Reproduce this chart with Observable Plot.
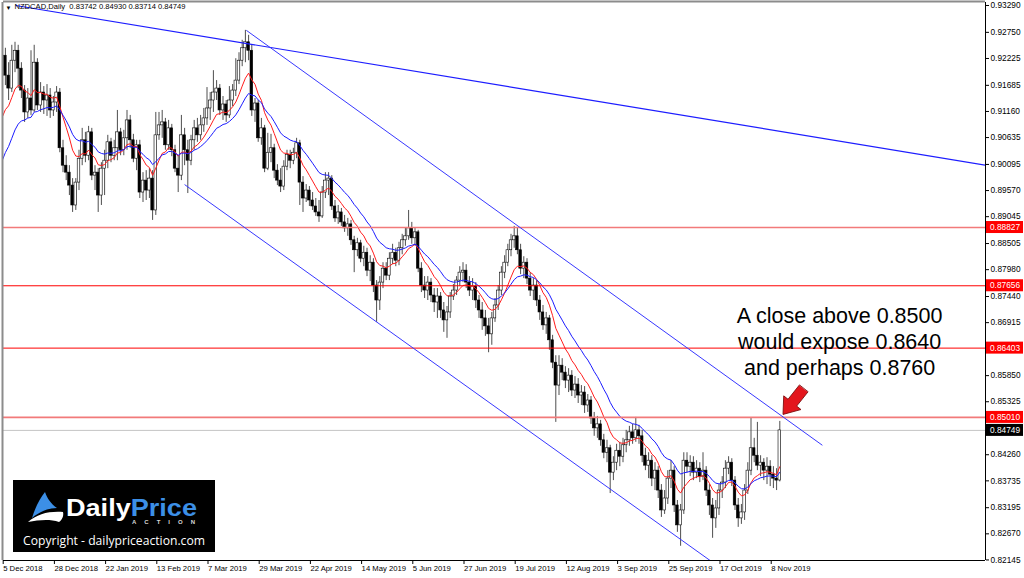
<!DOCTYPE html>
<html>
<head>
<meta charset="utf-8">
<script src="https://cdn.jsdelivr.net/npm/d3@7"></script>
<script src="https://cdn.jsdelivr.net/npm/@observablehq/plot@0.6"></script>
<style>
  html, body { margin: 0; padding: 0; background: #fff; }
  #chart { position: relative; width: 1024px; height: 578px; overflow: hidden; }
  #chart > svg { display: block; }
  #logo { position: absolute; left: 13px; top: 480px; width: 202px; height: 72px; background: #000; }
  #logo svg { display: block; }
</style>
</head>
<body>
<div id="chart"></div>
<script>
// ---------------- data ----------------
const symbol = "NZDCAD";
const timeframe = "Daily";

const opens = [
0.9198,0.9228,0.9188,0.9162,0.9218,0.9238,0.9202,0.9158,0.9114,0.9142,
0.9118,0.9214,0.9128,0.9154,0.9138,0.9148,0.9118,0.9134,0.9154,0.9042,
0.9007,0.8993,0.8967,0.8927,0.8973,0.9021,0.9058,0.9027,0.9074,0.8987,
0.8993,0.8947,0.9001,0.9017,0.9054,0.9027,0.9042,0.9074,0.9038,0.9062,
0.9098,0.9058,0.9021,0.9048,0.8953,0.8977,0.8957,0.8981,0.8917,0.9068,
0.9088,0.9094,0.9048,0.9082,0.9038,0.9001,0.8987,0.9068,0.9038,0.9017,
0.9058,0.9082,0.9068,0.9088,0.9102,0.9122,0.9138,0.9154,0.9162,0.9118,
0.9130,0.9108,0.9138,0.9158,0.9178,0.9218,0.9243,0.9255,0.9238,0.9118,
0.9132,0.9062,0.9082,0.9001,0.9033,0.9042,0.8997,0.8977,0.8965,0.9005,
0.9029,0.9017,0.9033,0.9052,0.8973,0.8941,0.8957,0.8937,0.8925,0.8913,
0.8905,0.8953,0.8977,0.8981,0.8925,0.8901,0.8913,0.8893,0.8881,0.8889,
0.8857,0.8837,0.8851,0.8820,0.8832,0.8796,0.8812,0.8766,0.8736,0.8772,
0.8800,0.8786,0.8820,0.8832,0.8816,0.8841,0.8857,0.8865,0.8881,0.8861,
0.8873,0.8800,0.8766,0.8756,0.8772,0.8746,0.8732,0.8744,0.8716,0.8696,
0.8712,0.8744,0.8756,0.8776,0.8792,0.8796,0.8772,0.8756,0.8764,0.8736,
0.8716,0.8700,0.8684,0.8668,0.8700,0.8726,0.8756,0.8792,0.8812,0.8837,
0.8857,0.8865,0.8837,0.8800,0.8812,0.8780,0.8756,0.8766,0.8736,0.8712,
0.8686,0.8700,0.8656,0.8611,0.8565,0.8605,0.8591,0.8575,0.8585,0.8555,
0.8567,0.8545,0.8551,0.8525,0.8535,0.8499,0.8479,0.8487,0.8455,0.8430,
0.8439,0.8390,0.8410,0.8434,0.8422,0.8445,0.8455,0.8471,0.8459,0.8475,
0.8463,0.8424,0.8404,0.8414,0.8378,0.8394,0.8354,0.8314,0.8338,0.8378,
0.8394,0.8324,0.8284,0.8314,0.8414,0.8402,0.8410,0.8390,0.8398,0.8382,
0.8394,0.8354,0.8324,0.8298,0.8318,0.8354,0.8370,0.8398,0.8410,0.8374,
0.8324,0.8298,0.8310,0.8354,0.8394,0.8439,0.8424,0.8404,0.8410,0.8394,
0.8402,0.8386,0.8378,0.83742];

const highs = [
0.9255,0.9243,0.9214,0.9249,0.9255,0.9249,0.9214,0.9168,0.9162,0.9238,
0.9249,0.9222,0.9174,0.9166,0.9170,0.9162,0.9146,0.9166,0.9162,0.9058,
0.9027,0.9007,0.8981,0.8981,0.9038,0.9082,0.9074,0.9086,0.9082,0.9007,
0.9001,0.9013,0.9038,0.9068,0.9062,0.9058,0.9118,0.9082,0.9078,0.9118,
0.9108,0.9070,0.9058,0.9058,0.8993,0.8997,0.9001,0.8997,0.9114,0.9114,
0.9118,0.9102,0.9098,0.9090,0.9048,0.9027,0.9108,0.9082,0.9058,0.9068,
0.9098,0.9102,0.9108,0.9122,0.9164,0.9154,0.9198,0.9178,0.9170,0.9146,
0.9138,0.9166,0.9170,0.9222,0.9234,0.9259,0.9279,0.9269,0.9249,0.9142,
0.9138,0.9102,0.9088,0.9072,0.9070,0.9050,0.9009,0.9001,0.9017,0.9038,
0.9038,0.9042,0.9062,0.9058,0.8985,0.8969,0.8965,0.8953,0.8941,0.8937,
0.8965,0.8993,0.8993,0.8987,0.8937,0.8927,0.8921,0.8907,0.8901,0.8897,
0.8865,0.8861,0.8857,0.8845,0.8841,0.8826,0.8820,0.8776,0.8784,0.8812,
0.8812,0.8832,0.8849,0.8841,0.8853,0.8869,0.8881,0.8917,0.8893,0.8881,
0.8877,0.8812,0.8784,0.8784,0.8780,0.8760,0.8760,0.8752,0.8732,0.8724,
0.8752,0.8768,0.8784,0.8804,0.8812,0.8808,0.8784,0.8780,0.8772,0.8746,
0.8732,0.8716,0.8700,0.8712,0.8740,0.8766,0.8804,0.8826,0.8849,0.8869,
0.8885,0.8881,0.8849,0.8824,0.8820,0.8792,0.8780,0.8776,0.8746,0.8726,
0.8712,0.8706,0.8666,0.8625,0.8625,0.8619,0.8603,0.8599,0.8595,0.8583,
0.8579,0.8565,0.8563,0.8547,0.8543,0.8511,0.8503,0.8495,0.8467,0.8455,
0.8445,0.8422,0.8447,0.8451,0.8459,0.8475,0.8483,0.8487,0.8501,0.8485,
0.8475,0.8439,0.8430,0.8424,0.8410,0.8402,0.8366,0.8354,0.8394,0.8414,
0.8402,0.8334,0.8326,0.8430,0.8430,0.8424,0.8422,0.8414,0.8410,0.8430,
0.8402,0.8366,0.8338,0.8334,0.8366,0.8382,0.8414,0.8422,0.8418,0.8382,
0.8338,0.8326,0.8366,0.8410,0.8499,0.8459,0.8491,0.8424,0.8418,0.8420,
0.8414,0.8402,0.8398,0.84930];

const lows = [
0.9178,0.9168,0.9138,0.9154,0.9194,0.9162,0.9142,0.9094,0.9102,0.9108,
0.9114,0.9118,0.9114,0.9110,0.9106,0.9102,0.9106,0.9114,0.9033,0.8993,
0.8977,0.8947,0.8913,0.8917,0.8957,0.9007,0.9013,0.9017,0.8977,0.8957,
0.8913,0.8927,0.8947,0.9001,0.9013,0.9017,0.9017,0.9027,0.9027,0.9038,
0.9042,0.9013,0.8997,0.8941,0.8933,0.8937,0.8941,0.8897,0.8907,0.9058,
0.9062,0.9038,0.9038,0.9025,0.8993,0.8953,0.8977,0.9007,0.8951,0.9007,
0.9038,0.9054,0.9058,0.9074,0.9088,0.9098,0.9114,0.9138,0.9108,0.9098,
0.9094,0.9102,0.9126,0.9146,0.9170,0.9206,0.9214,0.9218,0.9106,0.9094,
0.9054,0.9048,0.8993,0.8997,0.9013,0.8981,0.8967,0.8953,0.8957,0.8997,
0.9001,0.9009,0.9021,0.8927,0.8913,0.8933,0.8925,0.8917,0.8905,0.8893,
0.8901,0.8941,0.8947,0.8917,0.8893,0.8889,0.8885,0.8873,0.8865,0.8847,
0.8792,0.8824,0.8812,0.8804,0.8784,0.8774,0.8752,0.8692,0.8716,0.8760,
0.8776,0.8776,0.8808,0.8804,0.8806,0.8828,0.8845,0.8857,0.8849,0.8845,
0.8792,0.8752,0.8740,0.8736,0.8732,0.8712,0.8700,0.8700,0.8672,0.8660,
0.8700,0.8736,0.8746,0.8764,0.8772,0.8760,0.8744,0.8736,0.8720,0.8700,
0.8676,0.8664,0.8631,0.8646,0.8692,0.8716,0.8746,0.8780,0.8804,0.8824,
0.8841,0.8828,0.8788,0.8780,0.8768,0.8744,0.8736,0.8724,0.8696,0.8676,
0.8668,0.8636,0.8599,0.8491,0.8545,0.8575,0.8559,0.8551,0.8543,0.8539,
0.8529,0.8525,0.8509,0.8511,0.8487,0.8463,0.8459,0.8443,0.8418,0.8410,
0.8348,0.8374,0.8394,0.8402,0.8410,0.8430,0.8443,0.8447,0.8451,0.8447,
0.8410,0.8394,0.8378,0.8362,0.8354,0.8338,0.8300,0.8306,0.8326,0.8358,
0.8310,0.8270,0.8242,0.8306,0.8390,0.8382,0.8374,0.8378,0.8370,0.8374,
0.8342,0.8304,0.8258,0.8278,0.8304,0.8338,0.8358,0.8386,0.8362,0.8314,
0.8280,0.8286,0.8294,0.8346,0.8384,0.8410,0.8394,0.8382,0.8374,0.8366,
0.8362,0.8358,0.8354,0.83714];

const closes = [
0.9228,0.9188,0.9162,0.9218,0.9238,0.9202,0.9158,0.9114,0.9142,0.9118,
0.9214,0.9128,0.9154,0.9138,0.9148,0.9118,0.9134,0.9154,0.9042,0.9007,
0.8993,0.8967,0.8927,0.8973,0.9021,0.9058,0.9027,0.9074,0.8987,0.8993,
0.8947,0.9001,0.9017,0.9054,0.9027,0.9042,0.9074,0.9038,0.9062,0.9098,
0.9058,0.9021,0.9048,0.8953,0.8977,0.8957,0.8981,0.8917,0.9068,0.9088,
0.9094,0.9048,0.9082,0.9038,0.9001,0.8987,0.9068,0.9038,0.9017,0.9058,
0.9082,0.9068,0.9088,0.9102,0.9122,0.9138,0.9154,0.9162,0.9118,0.9130,
0.9108,0.9138,0.9158,0.9178,0.9218,0.9243,0.9255,0.9238,0.9118,0.9132,
0.9062,0.9082,0.9001,0.9033,0.9042,0.8997,0.8977,0.8965,0.9005,0.9029,
0.9017,0.9033,0.9052,0.8973,0.8941,0.8957,0.8937,0.8925,0.8913,0.8905,
0.8953,0.8977,0.8981,0.8925,0.8901,0.8913,0.8893,0.8881,0.8889,0.8857,
0.8837,0.8851,0.8820,0.8832,0.8796,0.8812,0.8766,0.8736,0.8772,0.8800,
0.8786,0.8820,0.8832,0.8816,0.8841,0.8857,0.8865,0.8881,0.8861,0.8873,
0.8800,0.8766,0.8756,0.8772,0.8746,0.8732,0.8744,0.8716,0.8696,0.8712,
0.8744,0.8756,0.8776,0.8792,0.8796,0.8772,0.8756,0.8764,0.8736,0.8716,
0.8700,0.8684,0.8668,0.8700,0.8726,0.8756,0.8792,0.8812,0.8837,0.8857,
0.8865,0.8837,0.8800,0.8812,0.8780,0.8756,0.8766,0.8736,0.8712,0.8686,
0.8700,0.8656,0.8611,0.8565,0.8605,0.8591,0.8575,0.8585,0.8555,0.8567,
0.8545,0.8551,0.8525,0.8535,0.8499,0.8479,0.8487,0.8455,0.8430,0.8439,
0.8390,0.8410,0.8434,0.8422,0.8445,0.8455,0.8471,0.8459,0.8475,0.8463,
0.8424,0.8404,0.8414,0.8378,0.8394,0.8354,0.8314,0.8338,0.8378,0.8394,
0.8324,0.8284,0.8314,0.8414,0.8402,0.8410,0.8390,0.8398,0.8382,0.8394,
0.8354,0.8324,0.8298,0.8318,0.8354,0.8370,0.8398,0.8410,0.8374,0.8324,
0.8298,0.8310,0.8354,0.8394,0.8439,0.8424,0.8404,0.8410,0.8394,0.8402,
0.8386,0.8378,0.8374,0.84749];

// moving averages shown on the chart (periods, and their values just before the first bar)
const maPeriods = [10, 20];
const maSeeds = [0.9077, 0.8995];

// x axis: bar index of each date label
const xTickBars = [0, 16, 32, 48, 64, 80, 96, 112, 128, 144, 160, 176, 192, 208, 224, 240];
const xTickLabels = ["5 Dec 2018", "28 Dec 2018", "22 Jan 2019", "13 Feb 2019", "7 Mar 2019", "29 Mar 2019",
  "22 Apr 2019", "14 May 2019", "5 Jun 2019", "27 Jun 2019", "19 Jul 2019", "12 Aug 2019", "3 Sep 2019",
  "25 Sep 2019", "17 Oct 2019", "8 Nov 2019"];

// y axis price labels (the two hidden under the price tags are left out)
const yTicks = [0.93290, 0.92750, 0.92225, 0.91685, 0.91160, 0.90635, 0.90095, 0.89570, 0.89045, 0.88505,
  0.87980, 0.87440, 0.86915, 0.85850, 0.85325, 0.84260, 0.83735, 0.83195, 0.82670, 0.82145];

// horizontal levels
const levels = [0.88827, 0.87656, 0.86403, 0.85010];

// trend lines (bar index, price)
const trendX1 = [4.2, 76.3, 57.0];
const trendY1 = [0.9329, 0.9279, 0.8969];
const trendX2 = [307.28, 256.3, 221.3];
const trendY2 = [0.9008, 0.8445, 0.8213];

// annotation
const noteLines = ["A close above 0.8500", "would expose 0.8640", "and perhaps 0.8760"];
const noteBar = [261.7];
const notePrice = [0.8656];
const arrowBar = [244.0];
const arrowPrice = [0.8507];

// ---------------- chart ----------------
const W = 1024, H = 578;
const M = {left: 3, right: 39, top: 2, bottom: 18};
const xDomain = [0.406, 307.28];
const yDomain = [0.82134, 0.93350];
const FONT = "'Liberation Sans', Arial, sans-serif";

const bars = closes.map((c, i) => ({i, o: opens[i], h: highs[i], l: lows[i], c}));

function ema(values, period, seed) {
  const a = 2 / (period + 1);
  let e = seed;
  return values.map(v => (e = e + a * (v - e)));
}
const maColors = ["#ff1c1c", "#1c1cff"];
const maData = maPeriods.flatMap((p, k) => ema(closes, p, maSeeds[k]).map((v, i) => ({i, v, k})));

const trends = trendX1.map((x, j) => ({x1: x, y1: trendY1[j], x2: trendX2[j], y2: trendY2[j], j}));
const labelByBar = new Map(xTickBars.map((b, k) => [b, xTickLabels[k]]));
const annotation = noteBar.map((b, k) => ({bar: b, price: notePrice[k], text: noteLines.join("\n")}));
const arrows = arrowBar.map((b, k) => ({bar: b, price: arrowPrice[k]}));
const levelRows = levels.map((v, k) => ({v, k}));

const last = bars[bars.length - 1];
const headerText = `${symbol},${timeframe}  ${[last.o, last.h, last.l, last.c].map(v => v.toFixed(5)).join(" ")}`;

const blockArrow = {
  draw(context, l) {
    const hw = 11, hl = 15, sw = 5.5;
    context.moveTo(-sw, 0);
    context.lineTo(-sw, -(l - hl));
    context.lineTo(-hw, -(l - hl));
    context.lineTo(0, -l);
    context.lineTo(hw, -(l - hl));
    context.lineTo(sw, -(l - hl));
    context.lineTo(sw, 0);
    context.closePath();
  }
};

const chart = Plot.plot({
  width: W, height: H,
  marginLeft: M.left, marginRight: M.right, marginTop: M.top, marginBottom: M.bottom,
  x: {type: "linear", domain: xDomain, axis: null},
  y: {type: "linear", domain: yDomain, axis: null},
  style: {fontFamily: FONT, fontSize: "8.3px", color: "#000", background: "transparent", overflow: "visible"},
  marks: [
    // bid line
    Plot.ruleY([last.c], {stroke: "#c4c4c4", strokeWidth: 1}),
    // candles
    Plot.ruleX(bars, {x: "i", y1: "l", y2: "h", stroke: "#3a3a3a", strokeWidth: 0.9, clip: true}),
    Plot.rect(bars, {
      x1: d => d.i - 0.4, x2: d => d.i + 0.4, y1: "o", y2: "c",
      fill: d => d.c >= d.o ? "#fff" : "#000", stroke: "#000", strokeWidth: 0.6, clip: true
    }),
    // moving averages
    Plot.line(maData, {x: "i", y: "v", z: "k", stroke: d => maColors[d.k], strokeWidth: 1, clip: true}),
    // horizontal levels
    Plot.ruleY(levelRows, {y: "v", stroke: d => d.k % 3 === 0 ? "#f27a7a" : "#ff0000",
      strokeWidth: d => d.k % 3 === 0 ? 1.6 : 1}),
    // trend lines
    Plot.link(trends, {x1: "x1", y1: "y1", x2: "x2", y2: "y2",
      stroke: d => d.j === 0 ? "#1d1dff" : "#3838ff", strokeWidth: d => d.j === 0 ? 1.2 : 1, clip: true}),
    // frame
    Plot.ruleX([xDomain[0]], {stroke: "#8c8c8c", strokeWidth: 2, dx: -1}),
    Plot.ruleY([yDomain[1]], {stroke: "#8c8c8c", strokeWidth: 2, dy: -1}),
    Plot.ruleX([xDomain[1]], {stroke: "#000", strokeWidth: 1}),
    Plot.ruleY([yDomain[0]], {stroke: "#000", strokeWidth: 1}),
    // axes
    Plot.axisY(yTicks, {anchor: "right", tickSize: 3, tickPadding: 2, tickFormat: d => d.toFixed(5), color: "#000"}),
    Plot.axisX(xTickBars, {anchor: "bottom", tickSize: 4, tickPadding: 1, tickFormat: d => labelByBar.get(d),
      textAnchor: "start", dx: 1, color: "#000", fontSize: 7.7}),
    // header
    Plot.text(["\u25BC"], {frameAnchor: "top-left", dx: 2, dy: 3, fontSize: 6, textAnchor: "start", lineAnchor: "top", fill: "#000"}),
    Plot.text([headerText], {frameAnchor: "top-left", dx: 11, dy: 1.5, fontSize: 7.6, textAnchor: "start", lineAnchor: "top", fill: "#000"}),
    // annotation
    Plot.text(annotation, {x: "bar", y: "price", text: "text", fontSize: 21.5, lineHeight: 1.21,
      textAnchor: "middle", fill: "#000", fontFamily: FONT}),
    Plot.vector(arrows, {x: "bar", y: "price", length: 33, rotate: 218.5, anchor: "end", shape: blockArrow,
      fill: "#e3161d", stroke: "#7a0b0b", strokeWidth: 0.8, strokeLinejoin: "miter"})
  ]
});

const host = document.getElementById("chart");
host.append(chart);

// price tags on the right axis
const yScale = chart.scale("y");
const svg = d3.select(chart);
const tagG = svg.append("g").attr("font-family", FONT).attr("font-size", "8.3px").attr("text-anchor", "start");
const tagList = levels.map(v => ({v, bg: "#ff0000"})).concat([{v: last.c, bg: "#000"}]);
for (const t of tagList) {
  const y = yScale.apply(t.v);
  tagG.append("rect").attr("x", W - M.right + 1).attr("y", y - 6).attr("width", M.right - 2).attr("height", 12).attr("fill", t.bg);
  tagG.append("text").attr("x", W - M.right + 5).attr("y", y).attr("dy", "0.35em").attr("text-anchor", "start")
    .attr("fill", "#fff").text(t.v.toFixed(5));
}

// watermark logo
const logo = document.createElement("div");
logo.id = "logo";
logo.innerHTML = `<svg width="202" height="72" viewBox="0 0 202 72">
  <path d="M15 42 C24 34 36 31 50 32 C51 36 49 40 46 42 C37 39 26 40 15 42 Z" fill="#ffffff"/>
  <path d="M19 38 C22 28 27 18 32 12 C34 18 38 24 44 28 C35 28 26 32 19 38 Z" fill="#3c8fe6"/>
  <text x="53" y="36" font-family="${FONT}" font-weight="bold" font-size="23" textLength="131" lengthAdjust="spacingAndGlyphs"><tspan fill="#ffffff">Daily</tspan><tspan fill="#3c8fe6">Price</tspan></text>
  <text x="119" y="44" font-family="${FONT}" font-weight="bold" font-size="6" fill="#d8d8d8" textLength="63" lengthAdjust="spacing">ACTION</text>
  <text x="10" y="65" font-family="'Open Sans', ${FONT}" font-size="12.5" fill="#ffffff" textLength="182" lengthAdjust="spacingAndGlyphs">Copyright - dailypriceaction.com</text>
</svg>`;
host.append(logo);
</script>
</body>
</html>
